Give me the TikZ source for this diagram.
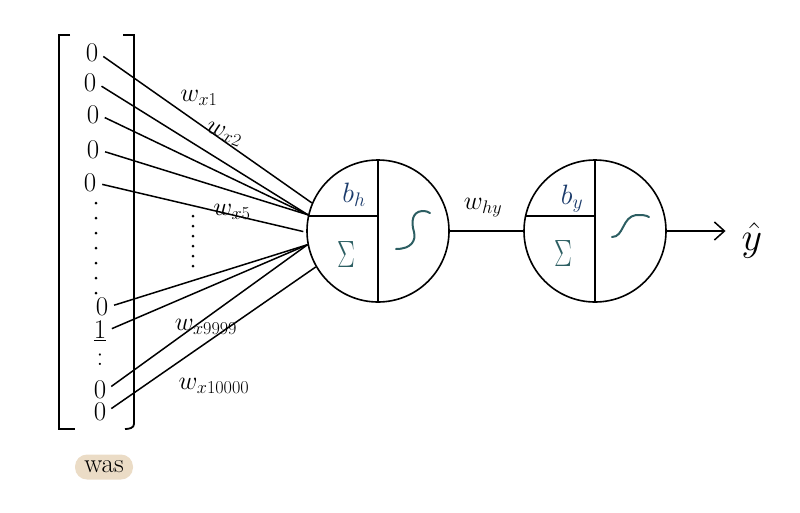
\RequirePackage{fix-cm}
\documentclass[tikz,border=0pt]{standalone}
\usepackage{tikz}
\usetikzlibrary{arrows.meta, positioning}
\definecolor{inkblue}{HTML}{1B3B6B}
\definecolor{inkteal}{HTML}{2C5E62}
\definecolor{tagtan}{HTML}{EBDCC6}
\tikzset{
  entry/.style={font=\fontsize{27}{27}\selectfont, inner sep=0pt},
  neuron/.style={circle, draw, line width=1.6pt, minimum size=142pt, inner sep=0pt},
  wire/.style={line width=1.5pt},
  inwire/.style={line width=1.5pt, shorten <=6pt},
  wlabel/.style={font=\fontsize{26}{26}\selectfont, inner sep=1pt},
  biaslabel/.style={font=\fontsize{28}{28}\selectfont, text=inkblue, inner sep=0pt},
  sumlabel/.style={font=\fontsize{38}{38}\selectfont, text=inkteal, inner sep=0pt, xscale=0.7},
  sigmoid/.style={draw=inkteal, line width=2pt, line cap=round},
  tag/.style={rounded corners=12pt, fill=tagtan, minimum width=58pt, minimum height=25pt,
              font=\fontsize{27}{27}\selectfont, inner sep=0pt},
  outarrow/.style={-{Straight Barb[length=10pt, width=18pt, line width=1.5pt]}, line width=1.5pt}
}

\begin{document}
\begin{tikzpicture}[x=1pt, y=-1pt]
  \useasboundingbox (0,0) rectangle (800,512);

  % Input vector
  \node[entry] (e1) at (92,53) {0};
  \node[entry] (e2) at (90,83) {0};
  \node[entry] (e3) at (93,115) {0};
  \node[entry] (e4) at (93,150) {0};
  \node[entry] (e5) at (90,183) {0};
  \node[entry] (e6) at (102,307) {0};
  \node[entry] (e7) at (100,331) {\underline{1}};
  \node[entry] (e8) at (100,360) {:};
  \node[entry] (e9) at (100,390) {0};
  \node[entry] (e10) at (100,412) {0};
  \foreach \y in {203,218,...,293}
    \fill (96,\y) circle (1.5pt);

  % Brackets
  \draw[line width=1.8pt] (70,35) -- (59,35) -- (59,429) -- (75,429);
  \draw[line width=1.8pt] (123,35) -- (134,35) -- (134,424) to[out=-90,in=0] (125,429);

  % Neurons
  \node[neuron] (h) at (378,231) {};
  \node[neuron] (o) at (595,231) {};
  \draw[wire] (h.north) -- (h.south);
  \draw[wire] (h.168.6) -- (h.168.6 -| h.center);
  \draw[wire] (o.north) -- (o.south);
  \draw[wire] (o.168.6) -- (o.168.6 -| o.center);

  \node[biaslabel] (bh) at (354,195) {$b_h$};
  \node[sumlabel] (sh) at (346,255) {$\Sigma$};
  \node[biaslabel] (by) at (572,199) {$b_y$};
  \node[sumlabel] (sy) at (563,254) {$\Sigma$};
  \draw[sigmoid] (396,249) .. controls (412,249) and (416,240) .. (414,232)
    .. controls (411,222) and (412,212) .. (422,211) .. controls (426,211) and (429,212) .. (430,213);
  \draw[sigmoid] (612,237) .. controls (624,237) and (622,217) .. (636,215)
    .. controls (642,215) and (646,215) .. (649,217);

  % Weights into the hidden neuron
  \draw[inwire] (e1.east) -- (h.157);
  \draw[inwire] (e2.east) -- (h.167);
  \draw[inwire] (e3.east) -- (h.167);
  \draw[inwire] (e4.east) -- (h.167);
  \draw[inwire, shorten >=3pt] (e5.east) -- (h.181);
  \draw[inwire] (e6.east) -- (h.191);
  \draw[inwire] (e7.east) -- (h.191);
  \draw[inwire] (e9.east) -- (h.191);
  \draw[inwire] (e10.east) -- (h.210);
  \foreach \y in {216,226,...,266}
    \fill (193,\y) circle (1.5pt);

  \node[wlabel] (wx1) at (199,98) {$w_{x1}$};
  \node[wlabel, rotate=-20] (wx2) at (224,134) {$w_{x2}$};
  \node[wlabel] (wx5) at (232,212) {$w_{x5}$};
  \node[wlabel] (wx9999) at (206,327) {$w_{x9999}$};
  \node[wlabel] (wx10000) at (214,386) {$w_{x10000}$};

  % Hidden to output
  \draw[wire] (h.east) -- (o.west);
  \node[wlabel] (why) at (483,208) {$w_{hy}$};

  \node[font=\fontsize{40}{40}\selectfont, inner sep=0pt] (yhat) at (752,240) {$\hat{y}$};
  \draw[outarrow, shorten >=16pt] (o.east) -- (o.east -| yhat.west);

  \node[tag] (was) at (104,467) {was};
\end{tikzpicture}
\end{document}
